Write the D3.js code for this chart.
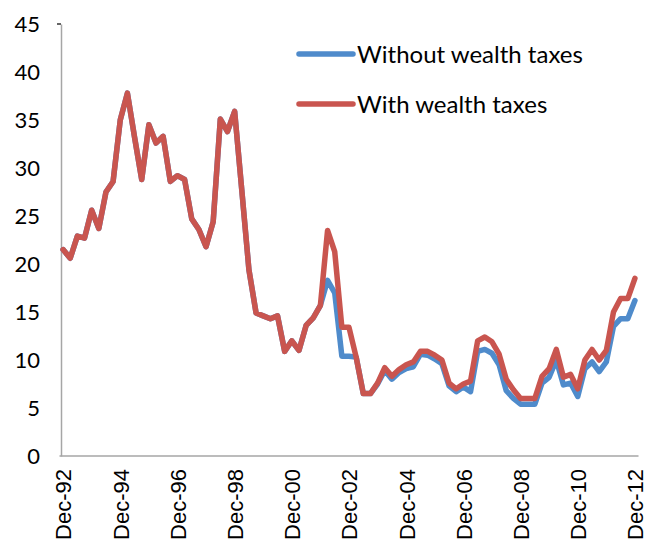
<!DOCTYPE html>
<html>
<head>
<meta charset="utf-8">
<script src="https://cdn.jsdelivr.net/npm/d3@7"></script>
<style>
  body { margin: 0; background: #fff; }
  text { font-family: Lato, "Open Sans", sans-serif; fill: #000; }
</style>
</head>
<body>
<svg id="chart" width="647" height="544"></svg>
<script>
// quarterly, Dec-92 .. Dec-12
const months = ["Mar", "Jun", "Sep", "Dec"];
const quarters = d3.range(81).map(i => {
    const q = (i + 3) % 4;
    const yr = 1992 + Math.floor((i + 3) / 4);
    return months[q] + "-" + String(yr % 100).padStart(2, "0");
});

const tickLabels = ["Dec-92", "Dec-94", "Dec-96", "Dec-98", "Dec-00", "Dec-02",
    "Dec-04", "Dec-06", "Dec-08", "Dec-10", "Dec-12"];

const withoutTaxes = [
    21.5, 20.6, 22.9, 22.7, 25.6, 23.7, 27.5, 28.6, 35.0, 37.8,
    33.2, 28.8, 34.5, 32.6, 33.3, 28.6, 29.2, 28.8, 24.7, 23.6,
    21.8, 24.4, 35.1, 33.8, 35.9, 27.7, 19.4, 14.9, 14.6, 14.3,
    14.6, 10.9, 12.0, 11.0, 13.6, 14.4, 15.7, 18.3, 17.0, 10.4,
    10.4, 10.3, 6.5, 6.5, 7.5, 8.9, 8.0, 8.7, 9.1, 9.3,
    10.6, 10.5, 10.1, 9.6, 7.3, 6.7, 7.2, 6.7, 10.9, 11.1,
    10.7, 9.5, 6.8, 6.0, 5.4, 5.4, 5.4, 7.6, 8.2, 10.0,
    7.4, 7.6, 6.2, 9.1, 9.8, 8.8, 9.8, 13.5, 14.3, 14.3,
    16.2
];

const withTaxes = [
    21.5, 20.6, 22.9, 22.7, 25.6, 23.7, 27.5, 28.6, 35.0, 37.8,
    33.2, 28.8, 34.5, 32.6, 33.3, 28.6, 29.2, 28.8, 24.7, 23.6,
    21.8, 24.4, 35.1, 33.8, 35.9, 27.7, 19.4, 14.9, 14.6, 14.3,
    14.6, 10.9, 12.0, 11.0, 13.6, 14.4, 15.7, 23.5, 21.3, 13.4,
    13.4, 10.3, 6.5, 6.5, 7.6, 9.2, 8.3, 9.0, 9.5, 9.8,
    10.9, 10.9, 10.5, 10.0, 7.6, 7.0, 7.5, 7.8, 12.0, 12.4,
    11.9, 10.6, 8.0, 6.9, 6.0, 6.0, 6.0, 8.3, 9.1, 11.1,
    8.2, 8.5, 7.0, 10.0, 11.1, 10.0, 11.0, 15.0, 16.4, 16.4,
    18.5
];

const series = [
    {name: "Without wealth taxes", values: withoutTaxes, color: "#4F8BCB"},
    {name: "With wealth taxes", values: withTaxes, color: "#C9554F"}
];

const svg = d3.select("#chart");

const x = d3.scalePoint()
    .domain(quarters)
    .range([59.5, 638.5])
    .padding(0.5);

const y = d3.scaleLinear()
    .domain([0, 45])
    .range([456, 24]);

// y axis
const yAxis = svg.append("g")
    .attr("transform", "translate(61,0)")
    .call(d3.axisLeft(y).tickValues(d3.range(0, 46, 5)).tickSize(0).tickPadding(21));
yAxis.select(".domain").attr("stroke", "#a6a6a6").attr("stroke-width", 1.5);
yAxis.selectAll("text")
    .style("font-size", "22px")
    .attr("dy", "0.36em");
// the small tick mark at the top
svg.append("line")
    .attr("x1", 57).attr("x2", 61)
    .attr("y1", y(45)).attr("y2", y(45))
    .attr("stroke", "#333").attr("stroke-width", 1.5);

// x axis
const xAxis = svg.append("g")
    .attr("transform", `translate(0,${y(0)})`)
    .call(d3.axisBottom(x).tickValues(tickLabels).tickSize(0).tickPadding(0));
xAxis.select(".domain")
    .attr("d", `M${x.range()[0]},0H${x.range()[1]}`)
    .attr("stroke", "#a6a6a6").attr("stroke-width", 1.5);
xAxis.selectAll("text")
    .style("font-family", "'Liberation Sans', Arial, sans-serif")
    .style("font-size", "22px")
    .attr("text-anchor", "end")
    .attr("transform", "rotate(-90)")
    .attr("x", -13)
    .attr("y", 0)
    .attr("dy", "0.36em");

// lines
const line = d3.line()
    .x((d, i) => x(quarters[i]))
    .y(d => y(d));

svg.selectAll(".series")
    .data(series)
    .enter()
    .append("path")
    .attr("class", "series")
    .attr("fill", "none")
    .attr("stroke", d => d.color)
    .attr("stroke-width", 5.5)
    .attr("stroke-linejoin", "round")
    .attr("stroke-linecap", "round")
    .attr("d", d => line(d.values));

// legend
const legend = svg.append("g");
series.forEach((s, i) => {
    const ly = 54 + i * 50;
    legend.append("line")
        .attr("x1", 299).attr("x2", 353)
        .attr("y1", ly).attr("y2", ly)
        .attr("stroke", s.color)
        .attr("stroke-width", 5.5)
        .attr("stroke-linecap", "round");
    legend.append("text")
        .attr("x", 357)
        .attr("y", ly)
        .attr("dy", "0.36em")
        .style("font-size", "24px")
        .text(s.name);
});
</script>
</body>
</html>
